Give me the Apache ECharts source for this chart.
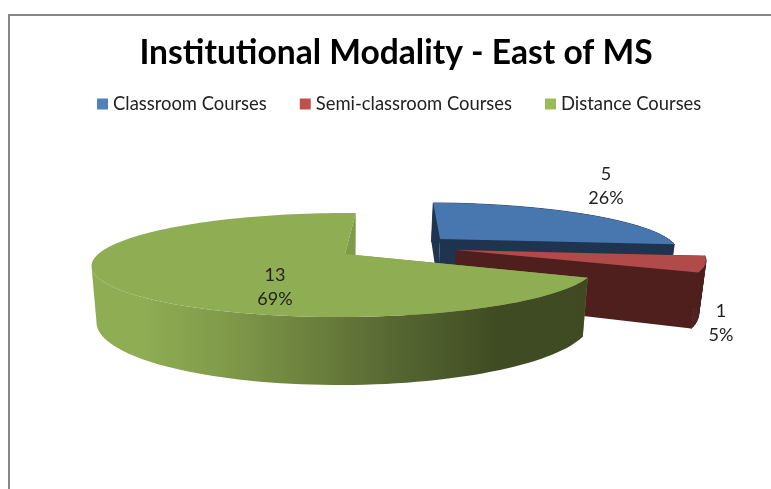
<!DOCTYPE html>
<html>
<head>
<meta charset="utf-8">
<style>html,body{margin:0;padding:0;background:#fff}#c{width:771px;height:489px}</style>
<script src="https://cdn.jsdelivr.net/npm/echarts@6/dist/echarts.min.js"></script>
</head>
<body>
<div id="c"></div>
<script>
// ---- data ----
const categories = ['Classroom Courses', 'Semi-classroom Courses', 'Distance Courses'];
const values = [5, 1, 13];
const percentLabels = ['26%', '5%', '69%'];
const titleText = 'Institutional Modality - East of MS';

// ---- styles and 3D projection ----
const topColors = ['#4877b0', '#b04b49', '#8fad53'];
const legendColors = ['#4f81bd', '#c0504d', '#9bbb59'];
const wallColors = ['#1f344f', '#4f1f1e', '#7f9a48'];
const firstAngle = 2;            // degrees, clockwise from the back
const radiusX = 248, radiusY = 49.7, persp = 0.2115, depth = 53.6;
const vanishX = 342, bottomShrink = 0.98;
// apex of each exploded slice on the page and its perspective tweak
const sliceView = [
  { ax: 440, ay: 239, sx: 0.92, sy: 0.88, shear: 0.37 },
  { ax: 456, ay: 250, sx: 0.985, sy: 0.95, shear: 0 },
  { ax: 345, ay: 254, sx: 0.995, sy: 1.0, shear: -0.09 }
];
const labelPos = [[606, 186], [721, 323], [275, 287]];
const greenWall = {
  type: 'linear', x: 92, y: 0, x2: 586, y2: 0, global: true,
  colorStops: [
    { offset: 0, color: '#8fad53' }, { offset: 0.1, color: '#8fad53' },
    { offset: 0.25, color: '#829d4b' }, { offset: 0.45, color: '#6b803d' },
    { offset: 0.62, color: '#566631' }, { offset: 0.82, color: '#3f4c23' },
    { offset: 1, color: '#3f4a23' }
  ]
};

function project(view, deg, r) {
  const t = deg * Math.PI / 180;
  const X = r * Math.sin(t), Z = r * Math.cos(t);
  const s = 1 / (1 + persp * Z);
  const dy = -radiusY * view.sy * Z * s;
  const x = view.ax + radiusX * view.sx * X * s + view.shear * dy;
  const y = view.ay + dy;
  return { x, y, s };
}
function toBottom(p, view) {
  return [vanishX + bottomShrink * (p.x - vanishX), p.y + depth * view.sy * p.s];
}
function arc(view, a0, a1) {
  const n = Math.max(4, Math.ceil(Math.abs(a1 - a0) / 2));
  const pts = [];
  for (let i = 0; i <= n; i++) pts.push(project(view, a0 + (a1 - a0) * i / n, 1));
  return pts;
}
const total = values.reduce((a, b) => a + b, 0);
function sliceStart(i) {
  let before = 0;
  for (let k = 0; k < i; k++) before += values[k];
  return firstAngle + before / total * 360;
}
function poly(points, fill, seam) {
  return { type: 'polygon', shape: { points },
    style: seam ? { fill, stroke: fill, lineWidth: 0.8 } : { fill, stroke: null } };
}
function renderSlice(i) {
  return function (params, api) {
    const view = sliceView[i];
    const share = api.value(0) / total * 360;
    const a0 = sliceStart(i), a1 = a0 + share;
    const outer = arc(view, a0, a1);
    const apex = { x: view.ax, y: view.ay, s: 1 };
    const children = [];
    const wall = wallColors[i];
    const face = (a, b, fill) => poly(
      [[a.x, a.y], [b.x, b.y], toBottom(b, view), toBottom(a, view)], fill);
    // cut faces
    children.push(face(apex, outer[0], wall));
    children.push(face(apex, outer[outer.length - 1], wall));
    // rim
    if (i === 2) {
      // shaded outer wall: one shape, from the first edge round to the leftmost point
      let ext = 0;
      outer.forEach((p, k) => { if (p.x < outer[ext].x) ext = k; });
      const front = outer.slice(0, ext + 1);
      children.push(poly(front.map(p => [p.x, p.y])
        .concat(front.map(p => toBottom(p, view)).reverse()), greenWall));
    } else {
      for (let k = 0; k + 1 < outer.length; k++) {
        children.push(poly([[outer[k].x, outer[k].y], [outer[k + 1].x, outer[k + 1].y],
          toBottom(outer[k + 1], view), toBottom(outer[k], view)], wall, true));
      }
    }
    // top surface
    children.push(poly([[apex.x, apex.y]].concat(outer.map(p => [p.x, p.y])), topColors[i]));
    return { type: 'group', children };
  };
}
function renderLabel(i) {
  return function (params, api) {
    return {
      type: 'text',
      x: labelPos[i][0], y: labelPos[i][1],
      style: {
        text: api.value(0) + '\n' + percentLabels[i],
        fill: '#222', font: '18px Lato',
        align: 'center', verticalAlign: 'middle', lineHeight: 24
      }
    };
  };
}

const series = categories.map((name, i) => ({
  name, type: 'custom', coordinateSystem: 'none',
  silent: true, animation: false, clip: false,
  itemStyle: { color: legendColors[i] },
  data: [[values[i]]],
  z: 2 + i,
  renderItem: renderSlice(i)
}));
categories.forEach((name, i) => series.push({
  type: 'custom', coordinateSystem: 'none',
  silent: true, animation: false, clip: false,
  data: [[values[i]]], z: 10,
  renderItem: renderLabel(i)
}));

const chart = echarts.init(document.getElementById('c'), null, { renderer: 'canvas' });
chart.setOption({
  animation: false,
  backgroundColor: '#fff',
  title: {
    text: titleText, left: 391, top: 31, textAlign: 'center',
    textStyle: { fontFamily: 'Lato', fontWeight: 'bold', fontSize: 33.6, color: '#000' }
  },
  legend: {
    left: 92, top: 90, icon: 'rect', itemWidth: 11, itemHeight: 11, itemGap: 33,
    data: categories, selectedMode: false,
    textStyle: { fontFamily: 'Lato', fontSize: 18.4, color: '#222' }
  },
  graphic: [
    { type: 'polyline', silent: true, shape: { points: [[9, 489], [9, 15], [771, 15]] },
      style: { stroke: '#868686', lineWidth: 2, fill: null } }
  ],
  series
});
</script>
</body>
</html>
